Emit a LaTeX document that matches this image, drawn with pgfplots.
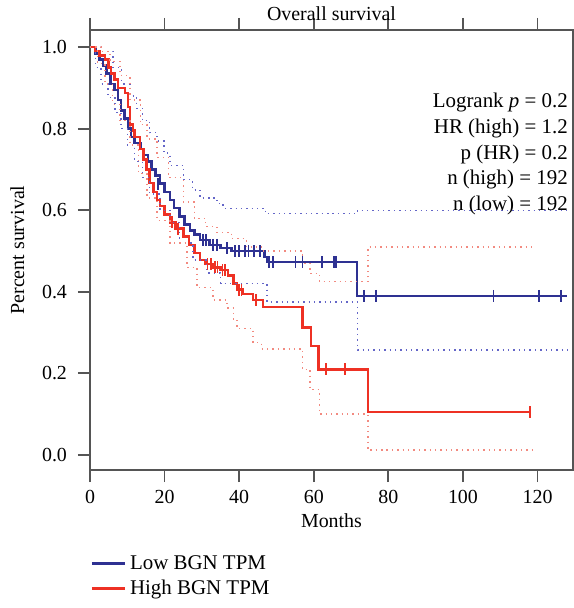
\documentclass[border=0pt]{standalone}
\usepackage{pgfplots}
\pgfplotsset{compat=1.18}
\usepackage{fontspec}
\setmainfont{Liberation Serif}

\definecolor{lowblue}{HTML}{2E3192}
\definecolor{highred}{HTML}{EE3124}
\definecolor{lowci}{HTML}{6466C8}
\definecolor{highci}{HTML}{F28A80}
\definecolor{axgray}{HTML}{555555}

\begin{document}
\begin{tikzpicture}
\begin{axis}[
  scale only axis,
  width=241.5bp, height=220bp,
  xmin=0, xmax=129.5, ymin=-0.037, ymax=1.042,
  xtick={0,20,...,120}, ytick={0,0.2,...,1.0},
  yticklabel style={/pgf/number format/fixed, /pgf/number format/fixed zerofill,
    /pgf/number format/precision=1, xshift=-2bp},
  xticklabel style={yshift=-0.5bp},
  /pgf/number format/assume math mode=true,
  tick align=outside, major tick length=6bp,
  tick style={axgray, line width=0.9pt},
  axis line style={axgray, line width=0.9pt},
  font=\fontsize{10}{12}\selectfont,
  title={Overall survival}, title style={yshift=-5pt},
  xlabel={Months}, ylabel={Percent survival},
  xlabel style={yshift=2pt}, ylabel style={yshift=2bp},
  legend style={draw=none, fill=none, at={(-0.012,-0.175)}, anchor=north west,
    font=\fontsize{10.5}{12}\selectfont, row sep=-0.3pt},
  legend cell align=left,
  legend image code/.code={\draw[#1, line width=1.3pt] (0cm,0cm) -- (0.58cm,0cm);},
  clip=false,
]
% low expression curve
\addplot[const plot, lowblue, line width=1.3pt] coordinates {
 (0,1.0) (1.5,0.985) (2.5,0.97) (3.5,0.955) (4.5,0.935) (5.5,0.91) (6.5,0.895)
 (7.5,0.87) (8.3,0.845) (9.2,0.825) (10.2,0.80) (11,0.78) (12,0.765) (13.7,0.75)
 (14.5,0.735) (15.5,0.72) (16.5,0.70) (17.5,0.685) (18.8,0.665) (20,0.645)
 (21.4,0.625) (22.5,0.605) (24,0.585) (25.3,0.565) (26.8,0.55) (28,0.54)
 (29.5,0.527) (32,0.515) (35,0.507) (38,0.50) (46.8,0.485) (47.5,0.473)
 (71.6,0.39) (128,0.39)};
\addlegendentry{Low BGN TPM}
% high expression curve
\addplot[const plot, highred, line width=1.3pt] coordinates {
 (0,1.0) (1.3,0.99) (2.5,0.98) (4,0.97) (5,0.95) (5.6,0.935) (6.5,0.92) (7.5,0.90)
 (9.4,0.887) (10.2,0.853) (10.7,0.81) (11.5,0.795) (12,0.78) (13.4,0.75)
 (14.3,0.725) (15.2,0.70) (16,0.667) (17,0.645) (18,0.625) (18.8,0.61) (20,0.59)
 (21.4,0.57) (23,0.555) (25,0.535) (26.5,0.515) (28,0.495) (29.5,0.478) (31,0.468)
 (33,0.46) (35,0.453) (37,0.44) (38.5,0.42) (39.4,0.405) (41,0.395) (43.7,0.38)
 (46.4,0.363) (57,0.3125) (59.2,0.267) (61.3,0.21) (74.5,0.105) (118,0.105)};
\addlegendentry{High BGN TPM}
% confidence bands
\addplot[const plot, lowci, line width=0.7pt, dash pattern=on 0.7pt off 2pt, forget plot] coordinates {
 (0,1.0) (3,0.99) (6.2,0.95) (8.5,0.91) (10.7,0.88) (12.5,0.85) (14,0.82) (16,0.79)
 (18,0.77) (19.8,0.74) (21.4,0.71) (25,0.675) (27.5,0.65) (29.5,0.63) (34,0.617)
 (35.7,0.605) (47,0.592) (71.7,0.60) (128,0.60)};
\addplot[const plot, lowci, line width=0.7pt, dash pattern=on 0.7pt off 2pt, forget plot] coordinates {
 (0,1.0) (1.5,0.95) (3,0.91) (4.8,0.877) (6.7,0.84) (8.3,0.80) (10,0.76) (12,0.72)
 (14,0.68) (16,0.64) (18.8,0.60) (21.4,0.57) (24,0.52) (27.6,0.478) (31.4,0.446)
 (35,0.42) (47.5,0.375) (71.7,0.257) (128,0.257)};
\addplot[const plot, highci, line width=0.7pt, dash pattern=on 0.7pt off 2pt, forget plot] coordinates {
 (0,1.0) (3,0.99) (5.4,0.965) (8,0.93) (10.7,0.87) (13.5,0.81) (15.3,0.775) (18,0.73)
 (21,0.68) (25,0.62) (28,0.58) (31,0.56) (34,0.545) (38,0.53) (42,0.51) (46,0.50)
 (57,0.47) (59,0.445) (61.5,0.425) (74.5,0.51) (118.5,0.51)};
\addplot[const plot, highci, line width=0.7pt, dash pattern=on 0.7pt off 2pt, forget plot] coordinates {
 (0,1.0) (2,0.96) (4,0.91) (6,0.86) (8,0.82) (10.7,0.76) (13,0.69) (15.3,0.63)
 (18,0.575) (21.4,0.52) (26,0.46) (28.7,0.41) (33,0.38) (36.7,0.36) (38.4,0.33)
 (39.4,0.31) (43.7,0.275) (46,0.26) (57,0.21) (59,0.16) (61.5,0.10) (74.5,0.012)
 (119,0.012)};
% censored observations
\addplot[only marks, mark=|, mark size=3pt, lowblue, mark options={line width=0.9pt}, forget plot] coordinates {
 (18.2,0.665) (30.3,0.527) (31.2,0.527) (33,0.515) (34,0.515) (36.7,0.507)
 (38.8,0.50) (40,0.50) (41.5,0.50) (42.5,0.50) (44,0.50) (45.6,0.50) (48,0.473)
 (49,0.473) (55.1,0.473) (57,0.473) (62.2,0.473) (65.4,0.473) (66,0.473)
 (73.4,0.39) (76.6,0.39) (108.2,0.39) (120.4,0.39) (126.3,0.39)};
\addplot[only marks, mark=|, mark size=3pt, highred, mark options={line width=0.9pt}, forget plot] coordinates {
 (22,0.57) (23.5,0.555) (31.5,0.468) (32.5,0.468) (33.5,0.46) (34.2,0.46)
 (35.5,0.453) (36.3,0.453) (40,0.405) (40.6,0.405) (44.5,0.38) (63.3,0.21)
 (68.4,0.21) (118,0.105)};
\node[anchor=north east, align=right, font=\fontsize{10.5}{12.9}\selectfont, inner sep=0pt]
  at (rel axis cs:0.99,0.857)
  {Logrank \textit{p} = 0.2\\ HR (high) = 1.2\\ p (HR) = 0.2\\ n (high) = 192\\ n (low) = 192};
\end{axis}
\pgfresetboundingbox
\path ([shift={(-45bp,-69bp)}]current axis.south west)
  rectangle ([shift={(0.5bp,15bp)}]current axis.north east);
\end{tikzpicture}
\end{document}
